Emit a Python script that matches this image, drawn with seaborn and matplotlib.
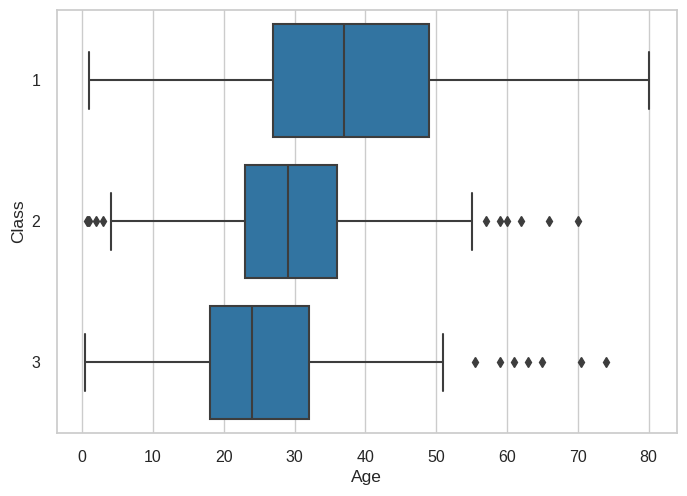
import pandas as pd
import matplotlib
matplotlib.use("Agg")
import matplotlib.pyplot as plt
import seaborn as sns

# Ages: whisker ends, quartiles, median and outliers.
# Quartile values are repeated so the box statistics come out as in the picture.
class1_ages = [0.92, 27, 37, 49, 80]
class2_ages = [0.67, 0.83, 1, 2, 3, 4, 23, 23, 23,
               29, 29, 29, 29, 29, 29, 29, 29,
               36, 36, 36, 36, 36, 36, 36, 36,
               55, 55, 57, 59, 60, 62, 66, 70]
class3_ages = [0.42, 18, 18, 18, 18, 18, 18, 18, 18,
               24, 24, 24, 24, 24, 24, 24, 24,
               32, 32, 32, 32, 32, 32, 32, 32,
               51, 55.5, 59, 61, 63, 65, 70.5, 74]

df = pd.DataFrame({
    'Age': class1_ages + class2_ages + class3_ages,
    'Class': ['1'] * len(class1_ages) + ['2'] * len(class2_ages) + ['3'] * len(class3_ages),
})

sns.set_theme(style='whitegrid')
plt.rcParams['font.family'] = ['Liberation Sans', 'DejaVu Sans']

fig, ax = plt.subplots(figsize=(6.87, 4.96), dpi=100)
fig.subplots_adjust(left=0.083, right=0.985, top=0.98, bottom=0.127)

line_col = '#3d3d3d'
sns.boxplot(
    data=df, x='Age', y='Class', order=['1', '2', '3'], orient='h',
    color='#1f77b4', saturation=0.75, width=0.8, linewidth=1.5,
    linecolor=line_col,
    flierprops=dict(marker='d', markerfacecolor=line_col,
                    markeredgecolor=line_col, markersize=5),
    ax=ax,
)
ax.set_xticks(range(0, 81, 10))
ax.tick_params(axis='both', labelsize=11.5)
ax.tick_params(axis='y', pad=6)
ax.tick_params(axis='x', pad=6)
ax.xaxis.label.set_size(12.5)
ax.yaxis.label.set_size(12.5)

plt.savefig('out.png', dpi=100)
